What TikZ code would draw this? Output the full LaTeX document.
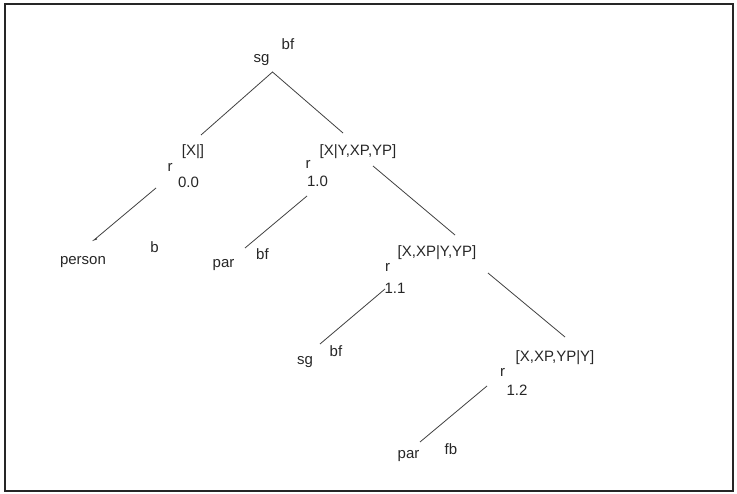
\documentclass[tikz,border=0pt]{standalone}
\usepackage{fontspec}
\setmainfont{Liberation Sans}
\begin{document}
\begin{tikzpicture}[x=1pt,y=-1pt,
  lbl/.style={inner sep=0pt,outer sep=0pt,anchor=base,font=\fontsize{15}{15}\selectfont,text=black!85},
  edge/.style={draw=black!75,line width=0.8pt}]
\useasboundingbox (0,0) rectangle (737,494);
\draw[line width=1.6pt,black!85] (5,4) rectangle (733,491);
% labels
\node[lbl] (sg0) at (261.5,63) {sg};
\node[lbl] (bf0) at (288,50) {bf};
\node[lbl] (xa) at (193,156) {[X|]};
\node[lbl] (ra) at (170,172) {r};
\node[lbl] (na) at (188.5,188) {0.0};
\node[lbl] (person) at (83,265) {person};
\node[lbl] (b) at (154.5,253) {b};
\node[lbl] (xb) at (358,156) {[X|Y,XP,YP]};
\node[lbl] (rb) at (308,169) {r};
\node[lbl] (nb) at (317.5,187) {1.0};
\node[lbl] (par1) at (223.5,268) {par};
\node[lbl] (bf1) at (262.5,260) {bf};
\node[lbl] (xc) at (437,257) {[X,XP|Y,YP]};
\node[lbl] (rc) at (387.5,272) {r};
\node[lbl] (nc) at (395,294) {1.1};
\node[lbl] (sg2) at (305,365) {sg};
\node[lbl] (bf2) at (336,357) {bf};
\node[lbl] (xd) at (555,362) {[X,XP,YP|Y]};
\node[lbl] (rd) at (502.5,377) {r};
\node[lbl] (nd) at (517,396) {1.2};
\node[lbl] (par3) at (408.5,459) {par};
\node[lbl] (fb) at (451,455) {fb};
% connector end points
\coordinate (apex) at (272.5,72);
\coordinate (ea) at (201,135);
\coordinate (eb) at (343,133);
\coordinate (fa1) at (156,188);
\coordinate (fa2) at (94,240);
\coordinate (fb1) at (307,196);
\coordinate (fb2) at (245,248);
\coordinate (gb1) at (373,166);
\coordinate (gb2) at (455,235);
\coordinate (fc1) at (385,289);
\coordinate (fc2) at (320,344);
\coordinate (gc1) at (488,273);
\coordinate (gc2) at (565,337);
\coordinate (fd1) at (487,386);
\coordinate (fd2) at (420,442);
% connectors
\draw[edge] (ea) -- (apex) -- (eb);
\draw[edge] (fa1) -- (fa2) -- ++(3,-1);
\draw[edge] (fb1) -- (fb2);
\draw[edge] (gb1) -- (gb2);
\draw[edge] (fc1) -- (fc2);
\draw[edge] (gc1) -- (gc2);
\draw[edge] (fd1) -- (fd2);
\end{tikzpicture}
\end{document}
